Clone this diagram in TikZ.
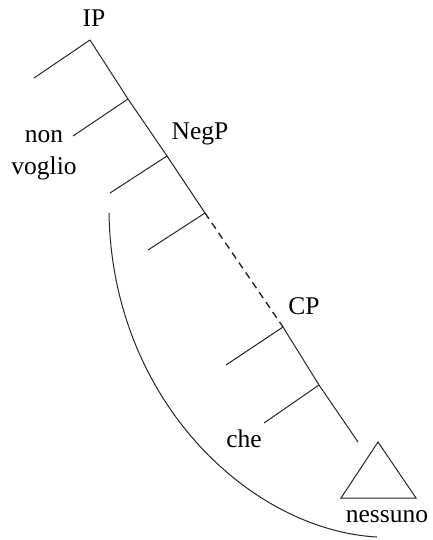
\documentclass[tikz,border=0pt]{standalone}
\usepackage{fontspec}
\setmainfont{Liberation Serif}
\begin{document}
\begin{tikzpicture}[x=1pt,y=-1pt,
  branch/.style={line width=1pt,black!85},
  lbl/.style={font=\fontsize{25.5}{32}\selectfont,inner sep=0pt}]
\useasboundingbox (0,0) rectangle (432,540);
% spine coordinates
\coordinate (ip) at (90,40);
\coordinate (j2) at (128,99);
\coordinate (j3) at (167,156);
\coordinate (j4) at (205,213);
\coordinate (cp) at (283,327);
\coordinate (j6) at (319,385);
\coordinate (sEnd) at (358,442);
% branch ends
\coordinate (b1) at (34,78);
\coordinate (b2) at (73,136);
\coordinate (b3) at (110,193);
\coordinate (b4) at (148,250);
\coordinate (b5) at (226,365);
\coordinate (b6) at (264,423);
% triangle
\coordinate (tA) at (378,442);
\coordinate (tL) at (341,498);
\coordinate (tR) at (416,498);
% curve ends
\coordinate (c1) at (109,213);
\coordinate (c2) at (377,537);
% labels
\node[lbl] (lIP) at (94,18) {IP};
\node[lbl] (lNeg) at (200,134) {NegP};
\node[lbl] (lCP) at (304,306) {CP};
\node[lbl,align=center] (lnv) at (44,155) {non\\voglio};
\node[lbl] (lche) at (244,439) {che};
\node[lbl] (lnes) at (387,517) {nessuno};
% spine
\draw[branch] (ip) -- (j2) -- (j3) -- (j4);
\draw[branch,line width=1.4pt,dash pattern=on 7pt off 5pt] (j4) -- (cp);
\draw[branch] (cp) -- (j6) -- (sEnd);
% branches
\draw[branch] (ip) -- (b1);
\draw[branch] (j2) -- (b2);
\draw[branch] (j3) -- (b3);
\draw[branch] (j4) -- (b4);
\draw[branch] (cp) -- (b5);
\draw[branch] (j6) -- (b6);
% triangle
\draw[branch] (tA) -- (tL) -- (tR) -- cycle;
% curve
\draw[branch] (c1) .. controls (112,400) and (250,530) .. (c2);
\end{tikzpicture}
\end{document}
